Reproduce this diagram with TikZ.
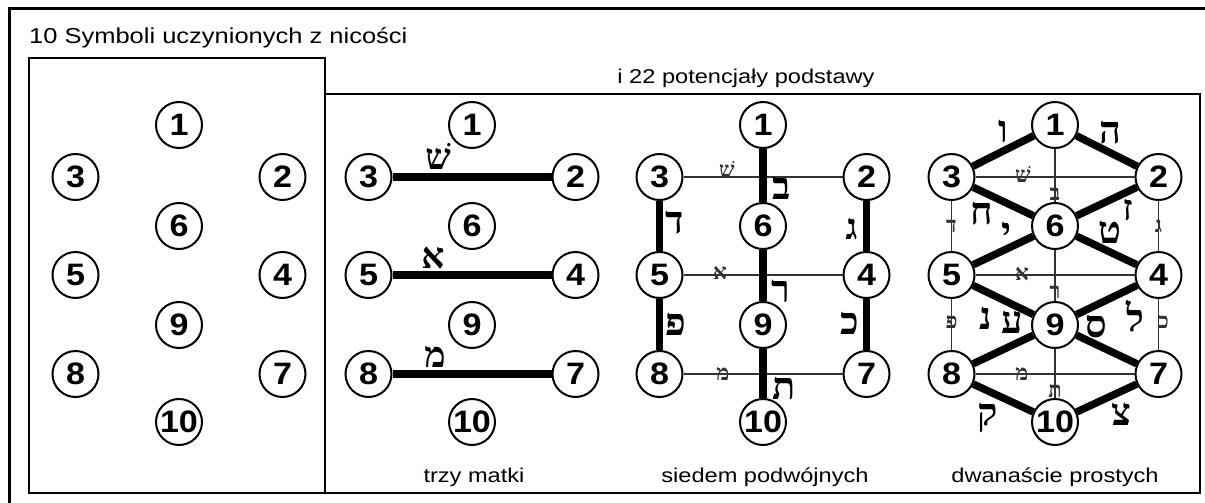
\documentclass[tikz,border=0pt]{standalone}
\usepackage{fontspec}
\setmainfont{Liberation Sans}
\newfontfamily\labelfont[FakeStretch=1.18]{Liberation Sans}
\newfontfamily\digitfont[FakeStretch=1.1]{Liberation Sans}
\newfontfamily\hebfont[Script=Hebrew]{Liberation Serif}
\TeXXeTstate=1
\newcommand{\heb}[1]{{\hebfont\beginR #1\endR}}
\tikzset{
    x=1pt, y=-1pt,                              % one unit is one pixel of the sketch
    point/.style={circle, draw, line width=2pt, fill=white, minimum size=46pt, inner sep=0pt,
        font=\digitfont\bfseries\fontsize{31}{31}\selectfont},   % the ten numbered points
    bond/.style={line width=7.5pt},             % thick connections
    link/.style={line width=1.4pt, black!80},   % thin connections
    caption/.style={inner sep=0pt, font=\labelfont\fontsize{20}{24}\selectfont},
    letter/.style={inner sep=0pt, font=\hebfont\bfseries\fontsize{38}{38}\selectfont},
    mid letter/.style={inner sep=0pt, font=\hebfont\bfseries\fontsize{36}{36}\selectfont},
    small letter/.style={inner sep=0pt, font=\hebfont\bfseries\fontsize{22}{22}\selectfont},
}

\begin{document}
\begin{tikzpicture}
\useasboundingbox (0,0) rectangle (1205,503);

% frames
\draw[line width=3pt] (1215,9) -- (9,9) -- (9,515);
\draw[line width=2pt] (29,58) rectangle (325,493);
\draw[line width=2pt] (325,94) -- (1200,94) -- (1200,493) -- (325,493);

\node[caption, anchor=base west, font=\labelfont\fontsize{21.6}{24}\selectfont] (title) at (29,43.5) {10 Symboli uczynionych z nicości};
\node[caption, anchor=base] (subtitle) at (746,84) {i 22 potencjały podstawy};
\node[caption, anchor=base] (mothers) at (474,482) {trzy matki};
\node[caption, anchor=base] (doubles) at (765,482) {siedem podwójnych};
\node[caption, anchor=base] (simples) at (1055,482) {dwanaście prostych};

% the ten points, once for every panel
\foreach \p/\cx in {a/179, b/472, c/763, d/1055} {
    \node[point] (\p1) at (\cx,125) {1};
    \node[point] (\p3) at (\cx-103.5,177) {3};
    \node[point] (\p2) at (\cx+103.5,177) {2};
    \node[point] (\p6) at (\cx,226) {6};
    \node[point] (\p5) at (\cx-103.5,275) {5};
    \node[point] (\p4) at (\cx+103.5,275) {4};
    \node[point] (\p9) at (\cx,325) {9};
    \node[point] (\p8) at (\cx-103.5,374) {8};
    \node[point] (\p7) at (\cx+103.5,374) {7};
    \node[point] (\p10) at (\cx,422) {10};
}

% trzy matki
\draw[bond]
(b3) edge node[mid letter, xshift=-34pt, yshift=21pt] {\heb{שׁ}} (b2)
(b5) edge node[mid letter, xshift=-39pt, yshift=17pt] {\heb{א}} (b4)
(b8) edge node[mid letter, xshift=-37pt, yshift=17pt] {\heb{מ}} (b7);

% siedem podwojnych
\draw[link]
(c3) edge node[small letter, xshift=-36pt, yshift=7pt] {\heb{שׁ}} (c2)
(c5) edge node[small letter, xshift=-43pt, yshift=2pt] {\heb{א}} (c4)
(c8) edge node[small letter, xshift=-40pt] {\heb{מ}} (c7);
\draw[bond]
(c1) edge node[letter, xshift=19pt, yshift=-12.5pt] {\heb{ב}} (c6)
(c6) edge node[letter, xshift=18pt, yshift=-15.5pt] {\heb{ר}} (c9)
(c9) edge node[letter, xshift=21pt, yshift=-15.5pt] {\heb{ת}} (c10)
(c3) edge node[letter, xshift=15pt, yshift=3pt] {\heb{ד}} (c5)
(c5) edge node[letter, xshift=16pt] {\heb{פ}} (c8)
(c2) edge node[mid letter, xshift=-15pt, yshift=-3pt] {\heb{ג}} (c4)
(c4) edge node[letter, xshift=-17pt, yshift=1.5pt] {\heb{כ}} (c7);

% dwanascie prostych
\draw[link]
(d3) edge node[small letter, xshift=-32pt, yshift=2pt] {\heb{שׁ}} (d2)
(d5) edge node[small letter, xshift=-33pt, yshift=1pt] {\heb{א}} (d4)
(d8) edge node[small letter, xshift=-33pt] {\heb{מ}} (d7)
(d1) edge node[small letter, yshift=-18.5pt] {\heb{ב}} (d6)
(d6) edge node[small letter, yshift=-16.5pt] {\heb{ר}} (d9)
(d9) edge node[small letter, yshift=-17.5pt] {\heb{ת}} (d10)
(d3) edge node[small letter] {\heb{ד}} (d5)
(d5) edge node[small letter, yshift=2pt] {\heb{פ}} (d8)
(d2) edge node[small letter] {\heb{ג}} (d4)
(d4) edge node[small letter, xshift=5pt, yshift=2pt] {\heb{כ}} (d7);
\draw[bond]
(d1) edge node[letter, yshift=20pt] {\heb{ו}} (d3)
(d1) edge node[letter, xshift=4pt, yshift=18pt] {\heb{ה}} (d2)
(d3) edge node[letter, xshift=-22pt, yshift=-12.5pt] {\heb{ח}} (d6)
(d2) edge node[mid letter, xshift=21pt, yshift=-9pt] {\heb{ז}} (d6)
(d6) edge node[letter, xshift=3pt, yshift=17pt] {\heb{י}} (d5)
(d6) edge node[letter, xshift=3pt, yshift=18.5pt] {\heb{ט}} (d4)
(d5) edge node[letter, xshift=-18pt, yshift=-18pt] {\heb{נ}} (d9)
(d9) edge node[letter, xshift=9pt, yshift=27.5pt] {\heb{ע}} (d8)
(d4) edge node[letter, xshift=29pt, yshift=-16pt] {\heb{ל}} (d9)
(d9) edge node[letter, xshift=-10pt, yshift=22.5pt] {\heb{ס}} (d7)
(d8) edge node[letter, xshift=-16pt, yshift=-20pt] {\heb{ק}} (d10)
(d10) edge node[letter, xshift=15pt, yshift=-16pt] {\heb{צ}} (d7);

\end{tikzpicture}
\end{document}
